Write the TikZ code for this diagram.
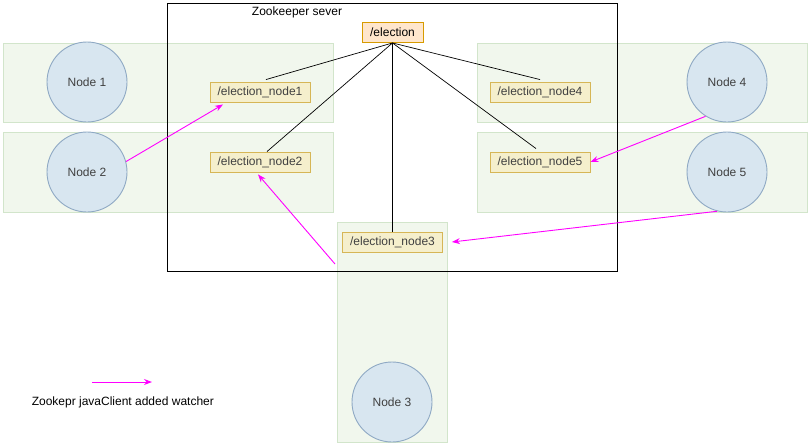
\documentclass[tikz,border=0pt]{standalone}
\usepackage{fontspec}
\setmainfont{Liberation Sans}
\usetikzlibrary{arrows.meta}

\definecolor{groupfill}{HTML}{F1F7ED}
\definecolor{groupline}{HTML}{D2E5CB}
\definecolor{clientfill}{HTML}{D8E6F0}
\definecolor{clientline}{HTML}{8FA9C4}
\definecolor{znodefill}{HTML}{F5EFCC}
\definecolor{znodeline}{HTML}{D6B656}
\definecolor{rootfill}{HTML}{FFE6CC}
\definecolor{rootline}{HTML}{D79B00}
\definecolor{watchpink}{HTML}{FF00FF}

\tikzset{
  group/.style={draw=groupline, fill=groupfill},
  client/.style={circle, draw=clientline, fill=clientfill, minimum size=80pt, inner sep=0pt, text=black!75},
  znode/.style={draw=znodeline, fill=znodefill, minimum width=100pt, minimum height=20pt, inner sep=0pt, text=black!75},
  root/.style={draw=rootline, fill=rootfill, minimum width=61pt, minimum height=20pt, inner sep=0pt},
  watch/.style={draw=watchpink, -{Stealth[length=8pt,width=6pt]}},
}

\begin{document}
\begin{tikzpicture}[x=1pt, y=-1pt, line width=0.9pt, font=\fontsize{12}{14}\selectfont]
\useasboundingbox (0,0) rectangle (810,445);

\draw[group] (3,43) rectangle (333,122); % Node 1 row
\draw[group] (3,132) rectangle (333,212); % Node 2 row
\draw[group] (477,43) rectangle (807,122); % Node 4 row
\draw[group] (477,132) rectangle (807,212); % Node 5 row
\draw[group] (337,222) rectangle (447,442); % Node 3 column

\draw (167,3) rectangle (617,271); % Outline of server
\node (title) at (297,12) {Zookeeper sever};

\node[client] (n1) at (87,82) {Node 1};
\node[client] (n2) at (87,172) {Node 2};
\node[client] (n3) at (392,402) {Node 3};
\node[client] (n4) at (727,82) {Node 4};
\node[client] (n5) at (727,172) {Node 5};

\node[root] (elect) at (392.5,32.5) {/election};
\node[znode] (el1) at (260,92) {/election\_node1};
\node[znode] (el2) at (260,162) {/election\_node2};
\node[znode] (el3) at (392.5,242) {/election\_node3};
\node[znode] (el4) at (540,92) {/election\_node4};
\node[znode] (el5) at (540,162) {/election\_node5};

% children of /election
\draw[line width=0.7pt] (elect.south) -- ([xshift=6pt,yshift=2pt]el1.north);
\draw[line width=0.7pt] (elect.south) -- ([xshift=7pt]el2.north);
\draw[line width=0.7pt] (elect.south) -- (el3.north);
\draw[line width=0.7pt] (elect.south) -- ([yshift=2pt]el4.north);
\draw[line width=0.7pt] (elect.south) -- ([xshift=-4pt,yshift=3pt]el5.north);

% watchers
\coordinate (w3) at (335,264);
\draw[watch] (n2.15) -- ([xshift=-37pt,yshift=-2pt]el1.south);
\draw[watch] (w3) -- ([xshift=-2pt,yshift=-2pt]el2.south);
\draw[watch] (n4.238) -- (el5.east);
\draw[watch] (n5.256) -- ([xshift=9pt]el3.east);

% legend
\coordinate (keyA) at (92,382);
\coordinate (keyB) at (152,382);
\draw[watch] (keyA) -- (keyB);
\node[anchor=west] (keytext) at (28,402) {Zookepr javaClient added watcher};

\end{tikzpicture}
\end{document}
